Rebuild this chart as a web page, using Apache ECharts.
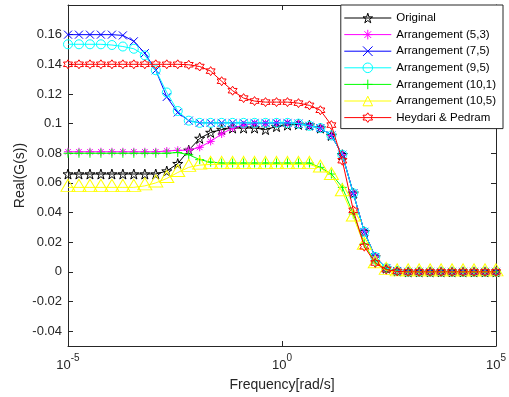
<!DOCTYPE html>
<html>
<head>
<meta charset="utf-8">
<script src="https://cdn.jsdelivr.net/npm/echarts@6/dist/echarts.min.js"></script>
<style>html,body{margin:0;padding:0;background:#fff}#c{width:509px;height:397px}</style>
</head>
<body>
<div id="c"></div>
<script>
// log10 of frequency for the 40 sample points
const logFreq = [-5, -4.744, -4.487, -4.231, -3.974, -3.718, -3.462, -3.205, -2.949, -2.692,
  -2.436, -2.179, -1.923, -1.667, -1.410, -1.154, -0.897, -0.641, -0.385, -0.128,
  0.128, 0.385, 0.641, 0.897, 1.154, 1.410, 1.667, 1.923, 2.179, 2.436,
  2.692, 2.949, 3.205, 3.462, 3.718, 3.974, 4.231, 4.487, 4.744, 5];

const seriesNames = ['Original', 'Arrangement (5,3)', 'Arrangement (7,5)', 'Arrangement (9,5)',
  'Arrangement (10,1)', 'Arrangement (10,5)', 'Heydari & Pedram'];

const original = [0.066,0.066,0.066,0.066,0.066,0.066,0.066,0.066,0.066,0.068,
  0.073,0.082,0.090,0.094,0.096,0.097,0.097,0.097,0.096,0.098,
  0.099,0.0995,0.099,0.097,0.092,0.079,0.053,0.027,0.010,0.0025,
  0.0006,0,0,0,0,0,0,0,0,0];
const arr53 = [0.081,0.081,0.081,0.081,0.081,0.081,0.081,0.081,0.081,0.0815,
  0.082,0.082,0.084,0.088,0.093,0.097,0.099,0.100,0.100,0.1005,
  0.1005,0.100,0.0985,0.097,0.092,0.079,0.053,0.027,0.010,0.0025,
  0.0006,0,0,0,0,0,0,0,0,0];
const arr75 = [0.160,0.160,0.160,0.160,0.160,0.1595,0.1555,0.1475,0.136,0.118,
  0.1075,0.102,0.1005,0.1005,0.1005,0.1005,0.1005,0.1005,0.1005,0.1005,
  0.1005,0.100,0.0985,0.097,0.092,0.079,0.053,0.027,0.010,0.0025,
  0.0006,0,0,0,0,0,0,0,0,0];
const arr95 = [0.1535,0.1535,0.1535,0.1535,0.153,0.152,0.1505,0.146,0.136,0.121,
  0.1085,0.102,0.1005,0.1005,0.1005,0.1005,0.1005,0.1005,0.1005,0.1005,
  0.1005,0.100,0.0985,0.097,0.092,0.079,0.053,0.027,0.010,0.0025,
  0.0006,0,0,0,0,0,0,0,0,0];
const arr101 = [0.080,0.080,0.080,0.080,0.080,0.080,0.080,0.080,0.080,0.080,
  0.0805,0.079,0.0757,0.074,0.0734,0.0734,0.0734,0.0734,0.0734,0.0734,
  0.0734,0.0734,0.0734,0.0705,0.066,0.057,0.039,0.019,0.006,0.0015,
  0.0003,0,0,0,0,0,0,0,0,0];
const arr105 = [0.057,0.057,0.057,0.057,0.057,0.057,0.057,0.058,0.060,0.063,
  0.067,0.0705,0.072,0.0725,0.0725,0.0725,0.0725,0.0725,0.0725,0.0725,
  0.0725,0.0725,0.0725,0.070,0.065,0.054,0.037,0.018,0.0055,0.001,
  0,0,0,0,0,0,0,0,0,0];
const heydari = [0.140,0.140,0.140,0.140,0.140,0.140,0.140,0.140,0.140,0.140,
  0.140,0.1397,0.1385,0.1354,0.1286,0.1222,0.1172,0.1152,0.1145,0.1145,
  0.1145,0.1138,0.1123,0.109,0.099,0.075,0.0415,0.017,0.006,0.0015,
  0.0003,0,0,0,0,0,0,0,0,0];

const yTicks = [-0.04, -0.02, 0, 0.02, 0.04, 0.06, 0.08, 0.1, 0.12, 0.14, 0.16];
const xTicks = [1e-5, 1, 1e5];

const FONT = '"Liberation Sans", Arial, Helvetica, sans-serif';
const AX = '#262626';
const CLEAR = 'rgba(0,0,0,0)';

const SYM_STAR = 'path://M50,0L61.23,34.55L97.55,34.55L68.17,55.9L79.39,90.45L50,69.1L20.61,90.45L31.83,55.9L2.45,34.55L38.77,34.55Z';
const SYM_HEX = 'path://M50,0L64.43,25L93.3,25L78.87,50L93.3,75L64.43,75L50,100L35.57,75L6.7,75L21.13,50L6.7,25L35.57,25Z';
const SYM_X = 'path://M0,0L10,10M10,0L0,10';
const SYM_PLUS = 'path://M5,0L5,10M0,5L10,5';
const SYM_AST = 'path://M5,0L5,10M0,5L10,5M1.5,1.5L8.5,8.5M8.5,1.5L1.5,8.5';

const styles = [
  {c: '#000000', sym: SYM_STAR, size: 10},
  {c: '#ff00ff', sym: SYM_AST, size: 8},
  {c: '#0000ff', sym: SYM_X, size: 8},
  {c: '#00ffff', sym: 'circle', size: 9},
  {c: '#00ff00', sym: SYM_PLUS, size: 9},
  {c: '#ffff00', sym: 'triangle', size: [14, 12], off: [0, -2]},
  {c: '#ff0000', sym: SYM_HEX, size: 9}
];
const allData = [original, arr53, arr75, arr95, arr101, arr105, heydari];

const series = allData.map((vals, i) => {
  const s = styles[i];
  return {
    name: seriesNames[i],
    type: 'line',
    data: vals.map((v, k) => [Math.pow(10, logFreq[k]), v]),
    symbol: s.sym,
    symbolSize: s.size,
    symbolOffset: s.off || [0, 0],
    showAllSymbol: true,
    symbolKeepAspect: false,
    lineStyle: {color: s.c, width: 1},
    itemStyle: {color: CLEAR, borderColor: s.c, borderWidth: 1},
    emphasis: {disabled: true},
    z: 2 + i
  };
});

const legendData = seriesNames.map((n, i) => ({
  name: n,
  itemStyle: {color: CLEAR, borderColor: styles[i].c, borderWidth: 1},
  lineStyle: {color: styles[i].c, width: 1}
}));

const chart = echarts.init(document.getElementById('c'), null, {renderer: 'canvas'});
chart.setOption({
  animation: false,
  backgroundColor: '#ffffff',
  textStyle: {fontFamily: FONT},
  grid: {left: 68, right: 6, top: 5, bottom: 51, containLabel: false, show: false},
  legend: {
    orient: 'vertical',
    right: 6,
    top: 5,
    padding: [7, 7, 5, 3],
    itemWidth: 47,
    itemHeight: 12,
    itemGap: 4.6,
    backgroundColor: '#ffffff',
    borderColor: AX,
    borderWidth: 1,
    borderRadius: 0,
    itemStyle: {color: CLEAR, borderWidth: 1},
    lineStyle: {width: 1},
    textStyle: {fontFamily: FONT, fontSize: 11.5, color: '#000'},
    data: legendData,
    z: 20
  },
  xAxis: [{
    type: 'log', logBase: 10, min: 1e-5, max: 1e5, position: 'bottom',
    name: 'Frequency[rad/s]', nameLocation: 'middle', nameGap: 32,
    nameTextStyle: {fontFamily: FONT, fontSize: 14, color: AX},
    axisLine: {show: true, onZero: false, lineStyle: {color: AX, width: 1}},
    axisTick: {show: true, inside: true, length: 5, customValues: xTicks, lineStyle: {color: AX}},
    minorTick: {show: false},
    splitLine: {show: false},
    axisLabel: {
      customValues: xTicks, margin: 7, color: AX, fontFamily: FONT,
      formatter: v => '{b|10}{s|' + Math.round(Math.log10(v)) + '}',
      rich: {
        b: {fontSize: 13, fontFamily: FONT, color: AX, padding: [6, 0, 0, 0]},
        s: {fontSize: 10, fontFamily: FONT, color: AX, padding: [0, 0, 2, 0], verticalAlign: 'top'}
      }
    }
  }, {
    type: 'log', logBase: 10, min: 1e-5, max: 1e5, position: 'top',
    axisLine: {show: true, onZero: false, lineStyle: {color: AX, width: 1}},
    axisTick: {show: true, inside: true, length: 5, customValues: xTicks, lineStyle: {color: AX}},
    axisLabel: {show: false},
    splitLine: {show: false}
  }],
  yAxis: [{
    type: 'value', min: -0.05, max: 0.18, position: 'left',
    name: 'Real(G(s))', nameLocation: 'middle', nameGap: 41, nameRotate: 90,
    nameMoveOverlap: false,
    nameTextStyle: {fontFamily: FONT, fontSize: 14, color: AX},
    axisLine: {show: true, onZero: false, lineStyle: {color: AX, width: 1}},
    axisTick: {show: true, inside: true, length: 5, customValues: yTicks, lineStyle: {color: AX}},
    splitLine: {show: false},
    axisLabel: {
      customValues: yTicks, margin: 6, color: AX, fontFamily: FONT, fontSize: 13,
      formatter: v => String(+(+v).toFixed(4))
    }
  }, {
    type: 'value', min: -0.05, max: 0.18, position: 'right',
    axisLine: {show: true, onZero: false, lineStyle: {color: AX, width: 1}},
    axisTick: {show: true, inside: true, length: 5, customValues: yTicks, lineStyle: {color: AX}},
    axisLabel: {show: false},
    splitLine: {show: false}
  }],
  series: series
});
</script>
</body>
</html>
